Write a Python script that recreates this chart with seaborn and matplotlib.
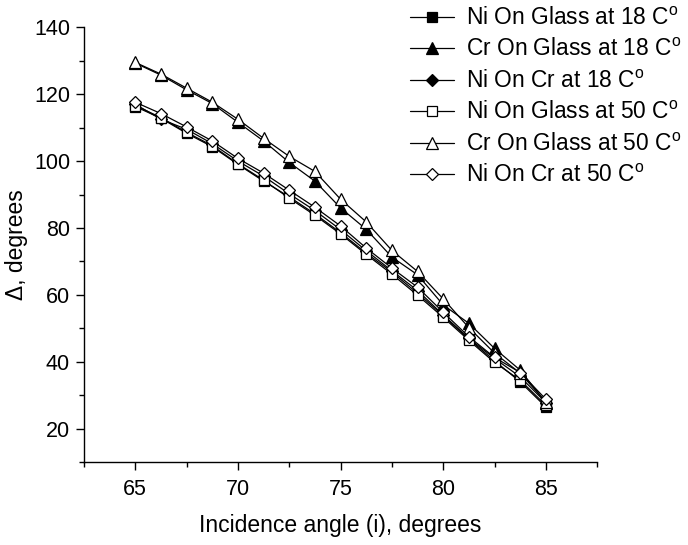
import numpy as np
import pandas as pd
import matplotlib
matplotlib.use("Agg")
import matplotlib.pyplot as plt
from matplotlib.ticker import MultipleLocator
import seaborn as sns

# ---- data ----
angle = [65.0, 66.25, 67.5, 68.75, 70.0, 71.25, 72.5, 73.75, 75.0,
         76.25, 77.5, 78.75, 80.0, 81.25, 82.5, 83.75, 85.0]

ni_glass_18 = [116.3, 112.8, 108.3, 104.3, 99.0, 94.0, 89.3, 84.2, 78.6,
               72.5, 66.8, 60.5, 53.8, 46.8, 40.3, 34.0, 26.5]
cr_glass_18 = [129.3, 125.7, 121.3, 117.2, 111.6, 106.0, 99.6, 94.0, 86.0,
               79.6, 71.3, 66.0, 57.0, 51.5, 44.0, 37.5, 27.8]
ni_cr_18 = [117.0, 112.5, 109.5, 105.2, 100.0, 95.5, 90.2, 85.2, 79.5,
            73.2, 67.2, 61.3, 54.0, 47.0, 41.0, 35.5, 27.8]
ni_glass_50 = [116.6, 113.0, 108.6, 104.6, 99.2, 94.3, 88.9, 83.8, 78.2,
               72.1, 66.2, 59.9, 53.3, 46.4, 39.8, 34.5, 27.0]
cr_glass_50 = [129.5, 126.0, 121.8, 117.6, 112.5, 106.8, 101.4, 96.9, 88.6,
               81.8, 73.3, 67.0, 58.8, 50.2, 42.6, 36.6, 28.0]
ni_cr_50 = [117.6, 114.2, 110.2, 106.0, 100.8, 96.4, 91.3, 86.2, 80.6,
            74.0, 68.0, 62.3, 54.8, 47.5, 41.3, 36.8, 28.8]

labels = [r"Ni On Glass at 18 C$^\mathrm{o}$",
          r"Cr On Glass at 18 C$^\mathrm{o}$",
          r"Ni On Cr at 18 C$^\mathrm{o}$",
          r"Ni On Glass at 50 C$^\mathrm{o}$",
          r"Cr On Glass at 50 C$^\mathrm{o}$",
          r"Ni On Cr at 50 C$^\mathrm{o}$"]
series = [ni_glass_18, cr_glass_18, ni_cr_18, ni_glass_50, cr_glass_50, ni_cr_50]

x_ticks = [65, 70, 75, 80, 85]
y_ticks = [20, 40, 60, 80, 100, 120, 140]

# ---- style ----
sns.set_theme(style="ticks")
plt.rcParams["font.family"] = ["Liberation Sans", "DejaVu Sans"]
plt.rcParams["mathtext.fontset"] = "custom"
plt.rcParams["mathtext.rm"] = "Liberation Sans"
plt.rcParams["mathtext.it"] = "Liberation Sans:italic"
plt.rcParams["text.color"] = "black"
plt.rcParams["axes.labelcolor"] = "black"
plt.rcParams["xtick.color"] = "black"
plt.rcParams["ytick.color"] = "black"
plt.rcParams["axes.edgecolor"] = "black"

markers = ["s", "^", "D", "s", "^", "D"]
msizes = [7.0, 8.5, 6.3, 7.0, 8.5, 6.3]
faces = ["black", "black", "black", "white", "white", "white"]

fig = plt.figure(figsize=(6.88, 5.45), dpi=100)
ax = fig.add_axes([0.122, 0.152, 0.746, 0.798])

for vals, lab, mk, ms, fc in zip(series, labels, markers, msizes, faces):
    df = pd.DataFrame({"angle": angle, "delta": vals})
    sns.lineplot(data=df, x="angle", y="delta", ax=ax, color="black",
                 linewidth=0.9, marker=mk, markersize=ms,
                 markerfacecolor=fc, markeredgecolor="black",
                 markeredgewidth=0.9, label=lab)

ax.set_xlim(62.5, 87.5)
ax.set_ylim(10, 140)
ax.set_xticks(x_ticks)
ax.set_yticks(y_ticks)
ax.xaxis.set_minor_locator(MultipleLocator(2.5))
ax.yaxis.set_minor_locator(MultipleLocator(10))
ax.tick_params(axis="both", which="major", labelsize=15.5, length=6,
               width=1, color="black", labelcolor="black",
               direction="out", pad=4)
ax.tick_params(axis="x", which="major", pad=6)
ax.tick_params(axis="both", which="minor", length=3.5, width=1,
               color="black", direction="out")
for s in ["top", "right"]:
    ax.spines[s].set_visible(False)
for s in ["left", "bottom"]:
    ax.spines[s].set_color("black")
    ax.spines[s].set_linewidth(1)

ax.set_xlabel("Incidence angle (i), degrees", fontsize=16.5, labelpad=10,
              color="black")
ax.set_ylabel("\u0394, degrees", fontsize=16.5, labelpad=4, color="black")

leg = ax.legend(loc="upper left", bbox_to_anchor=(410 / 688, 1 - 7 / 545),
                bbox_transform=fig.transFigure, frameon=False, fontsize=16.4,
                borderaxespad=0, borderpad=0, handlelength=1.95,
                handletextpad=0.5, labelspacing=0.37)
for t in leg.get_texts():
    t.set_color("black")

fig.savefig("out.png", dpi=100)
